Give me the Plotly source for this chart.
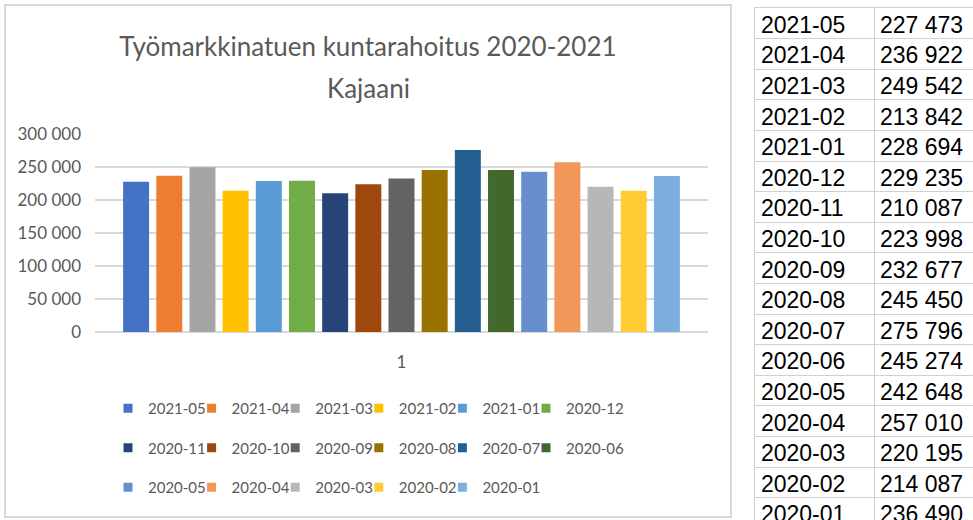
import plotly.graph_objects as go

# ---- data ----
months = ["2021-05", "2021-04", "2021-03", "2021-02", "2021-01", "2020-12",
          "2020-11", "2020-10", "2020-09", "2020-08", "2020-07", "2020-06",
          "2020-05", "2020-04", "2020-03", "2020-02", "2020-01"]
values = [227473, 236922, 249542, 213842, 228694, 229235,
          210087, 223998, 232677, 245450, 275796, 245274,
          242648, 257010, 220195, 214087, 236490]
value_labels = ["227\u00a0473", "236\u00a0922", "249\u00a0542", "213\u00a0842", "228\u00a0694",
                "229\u00a0235", "210\u00a0087", "223\u00a0998", "232\u00a0677", "245\u00a0450",
                "275\u00a0796", "245\u00a0274", "242\u00a0648", "257\u00a0010", "220\u00a0195",
                "214\u00a0087", "236\u00a0490"]
category = ["1"]
y_ticks = [0, 50000, 100000, 150000, 200000, 250000, 300000]
colors = ["#4472C4", "#ED7D31", "#A5A5A5", "#FFC000", "#5B9BD5", "#70AD47",
          "#264478", "#9E480E", "#636363", "#997300", "#255E91", "#43682B",
          "#698ED0", "#F1975A", "#B7B7B7", "#FFCD33", "#7CAFDD"]

W, H = 973, 520
FONT = "Lato"
GREY = "#595959"
TABLE_LINE = "#d0d0d0"


def px_x(p):
    return p / W


def px_y(p):
    return 1 - p / H


n_cols = 6


def legend_id(col):
    # rightmost column is drawn first so that left columns end up on top
    k = n_cols - col
    return "legend" if k == 1 else f"legend{k}"


fig = go.Figure()

# ---- legend entries (square swatches), column by column from the right ----
for col in reversed(range(n_cols)):
    for i in range(col, len(months), n_cols):
        fig.add_trace(go.Scatter(
            x=[None], y=[None], mode="markers", name=months[i],
            marker=dict(symbol="square", size=9, color=colors[i]),
            legend=legend_id(col), legendgroup=months[i], hoverinfo="skip",
        ))

# ---- bars, one trace per month ----
for m, v, c in zip(months, values, colors):
    fig.add_trace(go.Bar(
        x=category, y=[v], name=m, marker=dict(color=c, line=dict(width=0)),
        legendgroup=m, showlegend=False, hoverinfo="name+y",
    ))

# ---- table on the right (second axes pair) ----
rows = list(range(len(months)))
row_h = 30.6
tbl_top, tbl_bottom = 8, H
visible_rows = (tbl_bottom - tbl_top) / row_h
col1_w = 1.0
col2_w = 99 / 119
pad = 0.05
text_shift = 0.12  # small downward nudge so glyphs sit centred in the rows
text_rows = [r + text_shift for r in rows]
fig.add_trace(go.Scatter(
    x=[pad] * len(months), y=text_rows, text=months, mode="text",
    textposition="middle right", xaxis="x2", yaxis="y2", showlegend=False,
    textfont=dict(family="Liberation Sans", size=23, color="black"),
    hoverinfo="skip", cliponaxis=False,
))
fig.add_trace(go.Scatter(
    x=[col1_w + pad] * len(months), y=text_rows, text=value_labels, mode="text",
    textposition="middle right", xaxis="x2", yaxis="y2", showlegend=False,
    textfont=dict(family="Liberation Sans", size=23, color="black"),
    hoverinfo="skip", cliponaxis=False,
))

legend_common = dict(orientation="v", xanchor="left", yanchor="top",
                     font=dict(family=FONT, size=15, color=GREY),
                     bgcolor="rgba(0,0,0,0)", traceorder="grouped",
                     tracegroupgap=17, y=px_y(392))
legend_text_x0 = 149
legend_step = 83.6
legends = {}
for col in range(n_cols):
    legends[legend_id(col)] = dict(x=px_x(legend_text_x0 + col * legend_step - 41),
                                   **legend_common)

fig.update_layout(
    width=W, height=H,
    margin=dict(l=0, r=0, t=0, b=0, autoexpand=False),
    paper_bgcolor="white", plot_bgcolor="white",
    separators=", ",
    barmode="group", bargap=0.08, bargroupgap=0.217,
    title=dict(text="Työmarkkinatuen kuntarahoitus 2020-2021",
               x=px_x(368), xanchor="center", y=px_y(47), yanchor="middle",
               font=dict(family=FONT, size=26, color=GREY)),
    annotations=[dict(text="Kajaani", xref="paper", yref="paper",
                      x=px_x(368), y=px_y(88), xanchor="center", yanchor="middle",
                      showarrow=False, font=dict(family=FONT, size=26, color=GREY))],
    xaxis=dict(domain=[px_x(95), px_x(708)], type="category",
               showgrid=False, showline=False, zeroline=False,
               ticks="", ticklabelstandoff=18,
               tickfont=dict(family=FONT, size=17, color=GREY)),
    yaxis=dict(domain=[px_y(332), px_y(134)], range=[0, 300000],
               tickvals=y_ticks, tickformat=",d",
               showgrid=True, gridcolor="#d9d9d9", gridwidth=1.5,
               zeroline=True, zerolinecolor="#d9d9d9", zerolinewidth=1.5,
               showline=False, ticks="", ticklabelstandoff=13,
               tickfont=dict(family=FONT, size=17, color=GREY)),
    xaxis2=dict(domain=[px_x(755), 1.0], anchor="y2", side="top",
                range=[0, col1_w + col2_w], tickvals=[col1_w],
                showgrid=True, gridcolor=TABLE_LINE, gridwidth=1,
                zeroline=False, showline=True, linecolor=TABLE_LINE, linewidth=1,
                showticklabels=False, ticks="", fixedrange=True),
    yaxis2=dict(domain=[0.0, px_y(tbl_top)], anchor="x2",
                range=[visible_rows - 0.5, -0.5],
                tickvals=[r + 0.5 for r in rows],
                showgrid=True, gridcolor=TABLE_LINE, gridwidth=1,
                zeroline=False, showline=True, linecolor=TABLE_LINE, linewidth=1,
                showticklabels=False, ticks="", fixedrange=True),
    shapes=[dict(type="rect", xref="paper", yref="paper",
                 x0=px_x(5), x1=px_x(731), y0=px_y(517), y1=px_y(5),
                 line=dict(color="#d9d9d9", width=2), fillcolor="rgba(0,0,0,0)",
                 layer="below")],
    **legends,
)

fig.write_html("out.html", config={"displayModeBar": False},
               post_script="document.body.style.margin='0';")
